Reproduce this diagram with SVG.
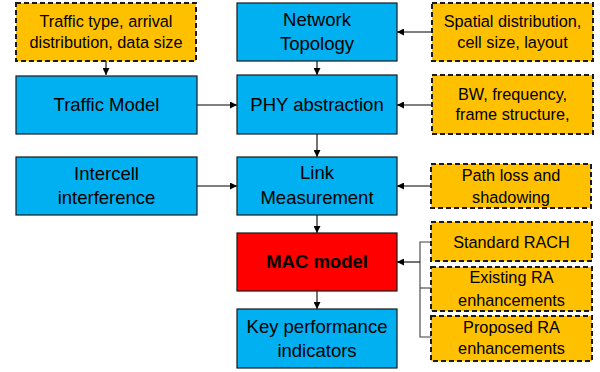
<svg xmlns="http://www.w3.org/2000/svg" width="600" height="372" viewBox="0 0 600 372">
<style>
.blue{fill:#00B0F0;stroke:#1a1a1a;stroke-width:1.2}
.red{fill:#FF0000;stroke:#1a1a1a;stroke-width:1.2}
.yel{fill:#FFC000;stroke:#1a1a1a;stroke-width:2;stroke-dasharray:5 3}
text{font-family:"Liberation Sans",Arial,sans-serif;fill:#000;text-anchor:middle}
.b{font-size:18.5px}
.y{font-size:16.3px}
.bold{font-weight:bold}
.c{stroke:#000;stroke-width:1.1;fill:none}
.g{stroke:#404040;stroke-width:1.1;fill:none}
</style>
<defs>
<marker id="ah" viewBox="0 0 8 8" refX="8" refY="4" markerWidth="7" markerHeight="7" markerUnits="userSpaceOnUse" orient="auto">
<path d="M0,0 L8,4 L0,8 z" fill="#000"/>
</marker>
</defs>
<g id="connectors">
<line class="c" x1="106" y1="61" x2="106" y2="75" marker-end="url(#ah)"/>
<line class="c" x1="197" y1="105" x2="237" y2="105" marker-end="url(#ah)"/>
<line class="c" x1="197" y1="186" x2="237" y2="186" marker-end="url(#ah)"/>
<line class="c" x1="432" y1="32" x2="397" y2="32" marker-end="url(#ah)"/>
<line class="c" x1="432" y1="105" x2="397" y2="105" marker-end="url(#ah)"/>
<line class="c" x1="431" y1="186" x2="397" y2="186" marker-end="url(#ah)"/>
<line class="c" x1="317" y1="61" x2="317" y2="75" marker-end="url(#ah)"/>
<line class="c" x1="317" y1="134" x2="317" y2="157" marker-end="url(#ah)"/>
<line class="c" x1="317" y1="215" x2="317" y2="233" marker-end="url(#ah)"/>
<line class="c" x1="317" y1="291" x2="317" y2="309" marker-end="url(#ah)"/>
<polyline class="g" points="431,242 420,242 420,337 431,337"/>
<line class="g" x1="420" y1="288" x2="431" y2="288"/>
<line class="c" x1="420" y1="262" x2="397" y2="262" marker-end="url(#ah)"/>
</g>
<g id="traffic-params">
<rect class="yel" x="16" y="3" width="180" height="58"/>
<text class="y" x="106" y="27">Traffic type, arrival</text>
<text class="y" x="106" y="48">distribution, data size</text>
</g>
<g id="traffic-model">
<rect class="blue" x="16" y="76" width="181" height="58"/>
<text class="b" x="106.5" y="111">Traffic Model</text>
</g>
<g id="intercell">
<rect class="blue" x="16" y="157" width="181" height="58"/>
<text class="b" x="106.5" y="180">Intercell</text>
<text class="b" x="106.5" y="204">interference</text>
</g>
<g id="network-topology">
<rect class="blue" x="237" y="3" width="160" height="58"/>
<text class="b" x="317" y="26">Network</text>
<text class="b" x="317" y="50">Topology</text>
</g>
<g id="phy">
<rect class="blue" x="237" y="75" width="160" height="59"/>
<text class="b" x="317" y="111">PHY abstraction</text>
</g>
<g id="link">
<rect class="blue" x="237" y="157" width="160" height="58"/>
<text class="b" x="317" y="179">Link</text>
<text class="b" x="317" y="204">Measurement</text>
</g>
<g id="mac">
<rect class="red" x="237" y="233" width="160" height="58"/>
<text class="b bold" x="317" y="268">MAC model</text>
</g>
<g id="kpi">
<rect class="blue" x="237" y="309" width="160" height="59"/>
<text class="b" x="317" y="333">Key performance</text>
<text class="b" x="317" y="357">indicators</text>
</g>
<g id="spatial">
<rect class="yel" x="432" y="3" width="161" height="58"/>
<text class="y" x="512.5" y="27">Spatial distribution,</text>
<text class="y" x="512.5" y="48">cell size, layout</text>
</g>
<g id="bw">
<rect class="yel" x="432" y="75" width="161" height="59"/>
<text class="y" x="512.5" y="100">BW, frequency,</text>
<text class="y" x="512.5" y="120">frame structure,</text>
</g>
<g id="pathloss">
<rect class="yel" x="431" y="164" width="160" height="44"/>
<text class="y" x="511" y="181">Path loss and</text>
<text class="y" x="511" y="203">shadowing</text>
</g>
<g id="rach">
<rect class="yel" x="431" y="222" width="161" height="39"/>
<text class="y" x="511.5" y="248">Standard RACH</text>
</g>
<g id="existing">
<rect class="yel" x="431" y="267" width="161" height="44"/>
<text class="y" x="511.5" y="283">Existing RA</text>
<text class="y" x="511.5" y="306">enhancements</text>
</g>
<g id="proposed">
<rect class="yel" x="431" y="316" width="161" height="45"/>
<text class="y" x="511.5" y="333">Proposed RA</text>
<text class="y" x="511.5" y="354">enhancements</text>
</g>
</svg>
